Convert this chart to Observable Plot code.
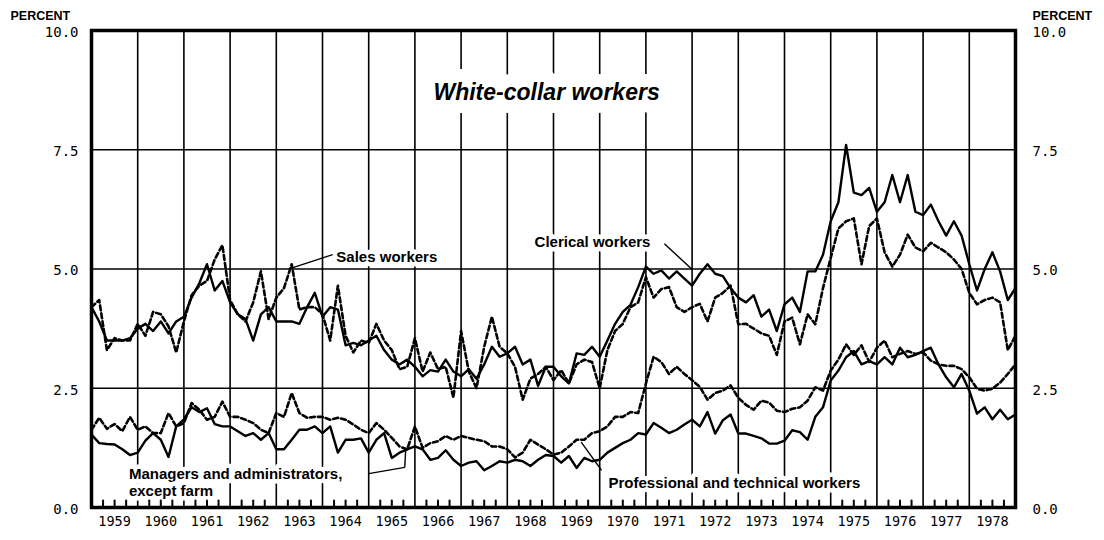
<!DOCTYPE html>
<html><head><meta charset="utf-8">
<script src="https://cdn.jsdelivr.net/npm/d3@7"></script>
<script src="https://cdn.jsdelivr.net/npm/@observablehq/plot@0.6"></script>
<style>
html,body{margin:0;padding:0;background:#fff;}
#chart{width:1104px;height:540px;}
</style></head><body><div id="chart"></div>
<script>
// ---- data (unemployment rates, percent; 6 readings per year from Jan 1959 to Jan 1979) ----
const title = "White-collar workers";
const unitLabel = "PERCENT";
const yTicks = [0, 2.5, 5, 7.5, 10];
const years = d3.range(1959, 1979);
const startYear = 1959, perYear = 6;

const clerical = [
 4.2,3.9,3.5,3.5,3.5,3.55,
 3.75,3.85,3.7,3.9,3.65,3.9,
 4.0,4.4,4.7,5.1,4.55,4.75,
 4.3,4.05,3.95,3.5,4.05,4.2,
 3.9,3.9,3.9,3.85,4.2,4.5,
 4.0,4.2,4.15,3.4,3.45,3.4,
 3.5,3.6,3.3,3.1,3.0,3.1,
 2.95,2.75,2.88,2.85,3.1,2.85,
 2.75,2.9,2.7,3.0,3.37,3.16,
 3.23,3.37,3.0,3.1,2.55,2.95,
 2.95,2.75,2.6,3.23,3.2,3.37,
 3.16,3.5,3.85,4.1,4.25,4.62,
 5.05,4.9,4.97,4.8,4.95,4.8,
 4.65,4.9,5.1,4.9,4.85,4.6,
 4.4,4.3,4.45,4.0,4.15,3.7,
 4.26,4.4,4.1,4.95,4.95,5.3,
 6.0,6.4,7.6,6.6,6.55,6.7,
 6.2,6.4,6.97,6.4,6.97,6.2,
 6.13,6.35,6.0,5.7,6.0,5.7,
 5.1,4.55,5.0,5.35,4.95,4.35,
 4.6];

const sales = [
 4.2,4.35,3.3,3.55,3.5,3.5,
 3.85,3.6,4.1,4.05,3.8,3.25,
 3.9,4.45,4.65,4.75,5.2,5.5,
 4.35,4.05,3.9,4.3,4.95,3.95,
 4.4,4.6,5.1,4.15,4.2,4.2,
 4.05,3.5,4.65,3.6,3.25,3.5,
 3.45,3.85,3.5,3.3,2.9,2.95,
 3.55,2.85,3.25,2.9,2.95,2.3,
 3.7,2.85,2.5,3.37,4.0,3.37,
 3.23,2.95,2.26,2.7,2.8,2.95,
 2.67,2.88,2.6,3.0,3.1,3.05,
 2.5,3.3,3.7,3.85,4.2,4.3,
 4.83,4.4,4.58,4.62,4.2,4.1,
 4.2,4.27,3.9,4.4,4.5,4.65,
 3.84,3.85,3.75,3.65,3.6,3.2,
 3.9,3.98,3.42,4.05,3.84,4.6,
 5.23,5.85,6.0,6.06,5.1,5.9,
 6.06,5.35,5.05,5.3,5.72,5.45,
 5.37,5.55,5.45,5.35,5.2,5.0,
 4.5,4.26,4.35,4.4,4.3,3.3,
 3.6];

const managers = [
 1.53,1.35,1.33,1.32,1.22,1.1,
 1.15,1.4,1.56,1.42,1.06,1.7,
 1.85,2.1,2.0,2.08,1.75,1.7,
 1.7,1.6,1.5,1.56,1.42,1.56,
 1.22,1.22,1.42,1.63,1.63,1.7,
 1.56,1.7,1.15,1.42,1.42,1.45,
 1.15,1.42,1.56,1.04,1.15,1.22,
 1.28,1.22,1.0,1.04,1.2,1.0,
 0.87,0.94,0.97,0.78,0.87,0.97,
 0.94,1.0,0.97,0.87,1.0,1.1,
 1.08,0.94,1.08,0.83,1.04,0.97,
 1.0,1.15,1.25,1.35,1.42,1.56,
 1.53,1.77,1.67,1.56,1.63,1.74,
 1.84,1.7,2.0,1.55,1.83,1.95,
 1.55,1.55,1.5,1.45,1.34,1.34,
 1.4,1.62,1.58,1.42,1.9,2.1,
 2.66,2.87,3.15,3.28,3.0,3.07,
 3.0,3.15,3.0,3.35,3.15,3.2,
 3.28,3.35,3.0,2.73,2.52,2.8,
 2.45,1.97,2.1,1.85,2.05,1.85,
 1.95];

const professional = [
 1.63,1.88,1.65,1.75,1.6,1.9,
 1.63,1.7,1.56,1.56,1.98,1.7,
 1.77,2.19,2.05,1.84,1.9,2.22,
 1.9,1.9,1.84,1.77,1.63,1.56,
 1.98,1.9,2.4,1.98,1.88,1.9,
 1.9,1.84,1.88,1.84,1.74,1.63,
 1.56,1.77,1.63,1.46,1.28,1.22,
 1.7,1.25,1.35,1.39,1.5,1.42,
 1.5,1.46,1.42,1.39,1.28,1.28,
 1.22,1.05,1.15,1.42,1.32,1.22,
 1.11,1.15,1.28,1.42,1.42,1.56,
 1.6,1.7,1.9,1.9,2.0,1.98,
 2.6,3.16,3.05,2.8,2.95,2.8,
 2.67,2.53,2.26,2.4,2.45,2.56,
 2.3,2.15,2.05,2.24,2.2,2.03,
 2.0,2.07,2.1,2.24,2.52,2.45,
 2.87,3.1,3.42,3.2,3.4,3.05,
 3.35,3.5,3.15,3.22,3.28,3.22,
 3.25,3.08,3.0,2.97,2.97,2.9,
 2.73,2.49,2.45,2.49,2.62,2.8,
 3.0];

// annotation labels and leader lines (in data units: year, percent)
const labelText = ["Sales workers", "Clerical workers", "Managers and administrators,\nexcept farm", "Professional and technical workers"];
const labelX = [1964.30, 1968.59, 1959.81, 1970.19];
const labelY = [5.26, 5.58, 0.54, 0.52];
const leaderX1 = [1963.36, 1971.99, 1965.0, 1965.78, 1969.60];
const leaderY1 = [5.03, 5.0, 0.71, 0.84, 1.37];
const leaderX2 = [1964.22, 1971.40, 1965.78, 1965.80, 1970.04];
const leaderY2 = [5.30, 5.53, 0.84, 1.20, 0.78];
const titleX = 1968.85, titleY = 8.70;

// ---- build ----
const tOf = (d, i) => startYear + i / perYear;
const labels = labelText.map((text, i) => ({text, x: labelX[i], y: labelY[i]}));
const leaders = leaderX1.map((x1, i) => ({x1, y1: leaderY1[i], x2: leaderX2[i], y2: leaderY2[i]}));
const quarterTicks = years.flatMap(y => [y + 0.25, y + 0.5, y + 0.75]);
const numFont = "DejaVu Sans Mono, Liberation Mono, monospace";
const sansFont = "Liberation Sans, Arial, Helvetica, sans-serif";

const plot = Plot.plot({
  width: 1104, height: 540,
  marginLeft: 91, marginRight: 89, marginTop: 30, marginBottom: 33,
  x: {domain: [1959, 1979], axis: null},
  y: {domain: [0, 10], axis: null},
  style: {background: "#fff", color: "#000"},
  marks: [
    Plot.gridX(years.slice(1), {stroke: "#000", strokeOpacity: 1, strokeWidth: 1.6}),
    Plot.gridY([2.5, 5, 7.5], {stroke: "#000", strokeOpacity: 1, strokeWidth: 1.6}),
    Plot.text([title], {x: titleX, y: titleY, text: d => d, fontFamily: sansFont, fontWeight: "bold", fontStyle: "italic",
      fontSize: 23, fill: "#000", stroke: "#fff", strokeWidth: 26, ariaLabel: "title"}),
    Plot.text(labels, {x: "x", y: "y", text: "text", textAnchor: "start", lineAnchor: "middle", lineHeight: 1.17,
      fontFamily: sansFont, fontWeight: "bold", fontSize: 15, fill: "#000", stroke: "#fff", strokeWidth: 9, ariaLabel: "annot"}),
    Plot.line(clerical, {x: tOf, y: d => d, stroke: "#000", strokeWidth: 2.4, strokeLinejoin: "round"}),
    Plot.line(sales, {x: tOf, y: d => d, stroke: "#000", strokeWidth: 2.6, strokeDasharray: "5,3"}),
    Plot.line(managers, {x: tOf, y: d => d, stroke: "#000", strokeWidth: 2.4, strokeLinejoin: "round"}),
    Plot.line(professional, {x: tOf, y: d => d, stroke: "#000", strokeWidth: 2.6, strokeDasharray: "5,3"}),
    Plot.link(leaders, {x1: "x1", y1: "y1", x2: "x2", y2: "y2", stroke: "#000", strokeWidth: 1.4}),
    Plot.vector(quarterTicks, {x: d => d, y: 0, length: 7, rotate: 0, anchor: "start", stroke: "#000", strokeWidth: 2,
      shape: {draw(ctx, l) { ctx.moveTo(0, 0); ctx.lineTo(0, -l); }}}),
    Plot.frame({stroke: "#000", strokeWidth: 3.5}),
    Plot.axisY(yTicks, {anchor: "left", label: null, tickSize: 0, tickPadding: 13, dy: 2, tickFormat: d3.format(".1f"),
      fontFamily: numFont, fontSize: 14}),
    Plot.axisY(yTicks, {anchor: "right", label: null, tickSize: 0, tickPadding: 17, dy: 2, tickFormat: d3.format(".1f"),
      fontFamily: numFont, fontSize: 14}),
    Plot.axisX(years.map(y => y + 0.5), {anchor: "bottom", label: null, tickSize: 0, tickPadding: 9,
      tickFormat: d => String(Math.floor(d)), fontFamily: numFont, fontSize: 13.5}),
    Plot.text([unitLabel], {frameAnchor: "top-left", dx: -81, dy: -19, text: d => d, textAnchor: "start",
      fontFamily: sansFont, fontWeight: "bold", fontSize: 12.5, fill: "#000"}),
    Plot.text([unitLabel], {frameAnchor: "top-right", dx: 17, dy: -19, text: d => d, textAnchor: "start",
      fontFamily: sansFont, fontWeight: "bold", fontSize: 12.5, fill: "#000"})
  ]
});
d3.select(plot).selectAll('g[aria-label="annot"] text').attr("letter-spacing", "0.6px");
d3.select(plot).selectAll('g[aria-label="title"] text').attr("letter-spacing", "0.4px");
document.getElementById("chart").appendChild(plot);
</script>
</body></html>
